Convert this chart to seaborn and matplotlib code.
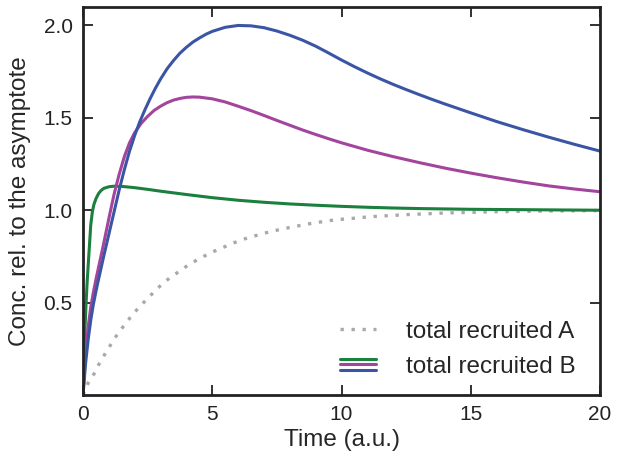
import matplotlib
matplotlib.use("Agg")
import matplotlib.pyplot as plt
import seaborn as sns
import pandas as pd
from matplotlib.legend_handler import HandlerBase
from matplotlib.lines import Line2D

# ---- data ----
t_a = [0, 0.2, 0.43, 0.63, 0.85, 1.08, 1.30, 1.56, 1.82, 2.1, 2.39, 2.70, 3.0, 3.34, 3.69,
       4.04, 4.4, 4.79, 5.17, 5.56, 5.97, 6.38, 6.8, 7.21, 7.63, 8.05, 8.46, 8.88, 9.32,
       9.75, 10.17, 10.6, 11.02, 11.46, 11.89, 12.5, 14, 16, 18, 20]
v_a = [0, 0.065, 0.115, 0.17, 0.222, 0.274, 0.322, 0.371, 0.418, 0.464, 0.507, 0.551, 0.592,
       0.632, 0.666, 0.70, 0.73, 0.759, 0.784, 0.807, 0.831, 0.851, 0.867, 0.883, 0.896,
       0.908, 0.919, 0.93, 0.939, 0.948, 0.953, 0.958, 0.964, 0.968, 0.971, 0.976, 0.985,
       0.992, 0.996, 0.998]

t_green = [0, 0.04, 0.08, 0.12, 0.16, 0.2, 0.25, 0.3, 0.36, 0.42, 0.5, 0.6, 0.7, 0.8, 1.0,
           1.2, 1.5, 2.0, 2.5, 3.0, 3.5, 4, 5, 6, 7, 8, 9, 10, 11, 12, 13, 14, 15, 16, 17,
           18, 20]
v_green = [0, 0.2, 0.37, 0.5, 0.61, 0.7, 0.81, 0.92, 0.99, 1.03, 1.062, 1.09, 1.107, 1.118,
           1.127, 1.13, 1.129, 1.122, 1.113, 1.103, 1.094, 1.085, 1.068, 1.054, 1.043, 1.034,
           1.027, 1.021, 1.016, 1.012, 1.009, 1.007, 1.005, 1.004, 1.003, 1.002, 1.0]

t_mag = [0, 0.1, 0.2, 0.3, 0.4, 0.5, 0.6, 0.8, 1.0, 1.2, 1.4, 1.6, 1.8, 2.0, 2.25, 2.5,
         2.75, 3.0, 3.25, 3.5, 3.75, 4.0, 4.25, 4.5, 5.0, 5.5, 6.0, 6.5, 7.0, 7.5, 8.0, 8.5,
         9.0, 9.5, 10, 11, 12, 13, 14, 15, 16, 17, 18, 19, 20]
v_mag = [0, 0.22, 0.37, 0.475, 0.555, 0.625, 0.69, 0.82, 0.955, 1.085, 1.195, 1.29, 1.365,
         1.42, 1.47, 1.508, 1.54, 1.563, 1.582, 1.596, 1.605, 1.611, 1.613, 1.612, 1.603,
         1.586, 1.563, 1.539, 1.513, 1.486, 1.46, 1.434, 1.41, 1.387, 1.365, 1.325, 1.29,
         1.258, 1.228, 1.201, 1.176, 1.153, 1.132, 1.115, 1.10]

t_blue = [0, 0.1, 0.2, 0.3, 0.4, 0.5, 0.6, 0.8, 1.0, 1.2, 1.4, 1.6, 1.8, 2.0, 2.2, 2.4,
          2.6, 2.8, 3.0, 3.25, 3.5, 3.75, 4.0, 4.25, 4.5, 4.75, 5.0, 5.5, 6.0, 6.5, 7.0,
          7.5, 8.0, 8.5, 9.0, 9.5, 10, 10.5, 11, 11.5, 12, 12.5, 13, 13.5, 14, 15, 16, 17,
          18, 19, 20]
v_blue = [0, 0.17, 0.3, 0.405, 0.49, 0.56, 0.625, 0.75, 0.87, 0.99, 1.11, 1.22, 1.32, 1.405,
          1.48, 1.545, 1.605, 1.66, 1.71, 1.765, 1.81, 1.85, 1.882, 1.91, 1.932, 1.952,
          1.968, 1.99, 2.0, 1.998, 1.988, 1.97, 1.947, 1.92, 1.888, 1.851, 1.813, 1.777,
          1.743, 1.711, 1.681, 1.653, 1.626, 1.60, 1.575, 1.527, 1.48, 1.437, 1.396, 1.357,
          1.32]

series_b = ["green", "magenta", "blue"]
colors_b = {"green": "#1b7f3e", "magenta": "#a3449d", "blue": "#3b55a5"}
color_a = "#a9a9a9"

x_ticks = [0, 5, 10, 15, 20]
y_ticks = [0.5, 1.0, 1.5, 2.0]
x_label = "Time (a.u.)"
y_label = "Conc. rel. to the asymptote"
label_a = "total recruited A"
label_b = "total recruited B"

df_a = pd.DataFrame({"t": t_a, "v": v_a})
df_b = pd.concat([
    pd.DataFrame({"t": t_green, "v": v_green, "s": "green"}),
    pd.DataFrame({"t": t_mag, "v": v_mag, "s": "magenta"}),
    pd.DataFrame({"t": t_blue, "v": v_blue, "s": "blue"}),
], ignore_index=True)

sns.set_style("ticks")
plt.rcParams["font.family"] = ["Liberation Sans", "DejaVu Sans"]
plt.rcParams["xtick.direction"] = "in"
plt.rcParams["ytick.direction"] = "in"

fig = plt.figure(figsize=(6.18, 4.66), dpi=100)
ax = fig.add_axes([0.1343, 0.1524, 0.9709 - 0.1343, 0.985 - 0.1524])

sns.lineplot(data=df_a, x="t", y="v", ax=ax, color=color_a, lw=2.4,
             linestyle=(0, (1, 2.3)), estimator=None, sort=False)
sns.lineplot(data=df_b, x="t", y="v", hue="s", hue_order=series_b, palette=colors_b,
             ax=ax, lw=2.2, estimator=None, sort=False, legend=False)

ax.set_xlim(0, 20)
ax.set_ylim(0, 2.1)
ax.set_xticks(x_ticks)
ax.set_xticklabels([str(v) for v in x_ticks])
ax.set_yticks(y_ticks)
ax.set_yticklabels([f"{v:.1f}" for v in y_ticks])
ax.set_xlabel(x_label, fontsize=17.5, labelpad=3)
ax.set_ylabel(y_label, fontsize=17.5, labelpad=9)
ax.tick_params(axis="both", which="major", direction="in", length=7, width=1.3,
               labelsize=15, pad=7.5, top=True, right=True, bottom=True, left=True,
               color="#222222", labelcolor="#222222")
for sp in ax.spines.values():
    sp.set_linewidth(2.0)
    sp.set_color("#222222")


class HandlerStack(HandlerBase):
    def create_artists(self, legend, orig_handle, xdescent, ydescent, width, height,
                       fontsize, trans):
        lines = list(orig_handle)
        n = len(lines)
        yc = (height - ydescent) / 2
        gap = 4.0
        arts = []
        for i, ln in enumerate(lines):
            y = yc + ((n - 1) / 2 - i) * gap
            a = Line2D([-xdescent, -xdescent + width], [y, y], color=ln.get_color(),
                       lw=ln.get_linewidth(), transform=trans)
            arts.append(a)
        return arts


h_a = Line2D([], [], color=color_a, lw=2.4, linestyle=(0, (1, 2.3)))
h_b = tuple(Line2D([], [], color=colors_b[s], lw=2.2) for s in series_b)
ax.legend([h_a, h_b], [label_a, label_b], handler_map={tuple: HandlerStack()},
          loc="lower right", bbox_to_anchor=(0.985, 0.0), frameon=False, fontsize=17.5,
          handlelength=1.5, handletextpad=1.2, labelspacing=0.55, borderpad=0.2)

fig.savefig("out.png", dpi=100)
